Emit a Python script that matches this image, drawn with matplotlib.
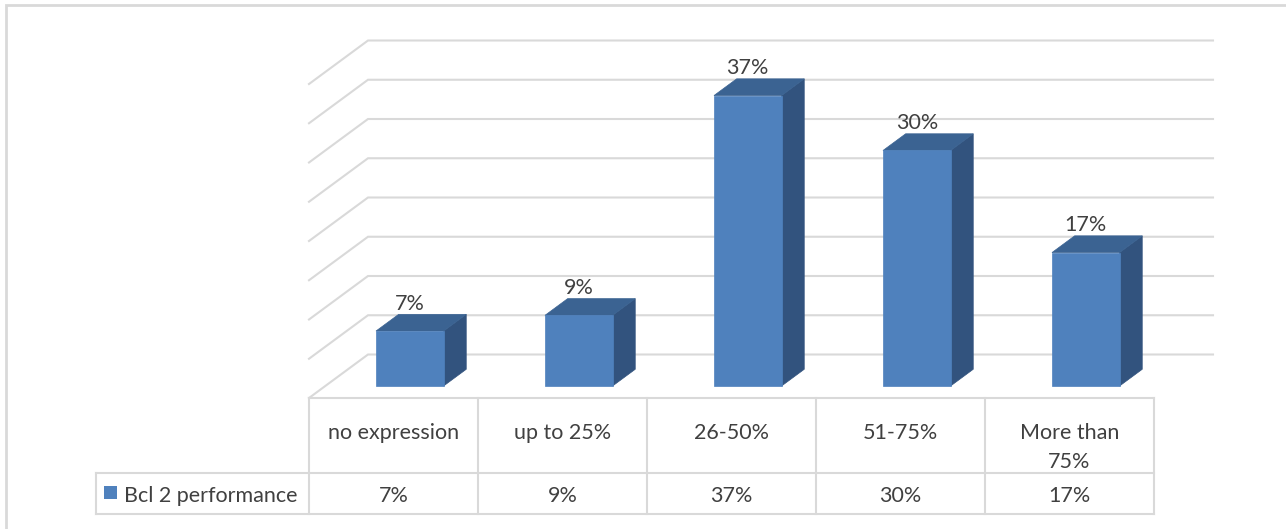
import matplotlib
matplotlib.use("Agg")
import matplotlib.pyplot as plt
from matplotlib.patches import Polygon, Rectangle
from matplotlib.lines import Line2D
from matplotlib import transforms

# ---- data ----
categories = ["no expression", "up to 25%", "26-50%", "51-75%", "More than\n75%"]
values = [7, 9, 37, 30, 17]
value_labels = ["7%", "9%", "37%", "30%", "17%"]
series_name = "Bcl 2 performance"
grid_ticks = [0, 5, 10, 15, 20, 25, 30, 35, 40]

# ---- style ----
FRONT = "#4F81BD"
TOP = "#3B6392"
SIDE = "#32537E"
GRID = "#D9D9D9"
TXT = "#404040"
FONT = "Lato"
FS = 15.5

W, H = 1286, 529
fig = plt.figure(figsize=(W / 100, H / 100), dpi=100)
fig.patch.set_facecolor("white")

PXX = 169.0   # pixels per category
PXY = 7.85    # pixels per percent
ax = fig.add_axes([309 / W, (H - 398) / H, 5 * PXX / W, 46 * PXY / H])
ax.set_xlim(-0.5, 4.5)
ax.set_ylim(0, 46)
ax.axis("off")

DX = 59 / PXX
DY = 43.5 / PXY
D0, D1 = 0.276, 0.66
BW = 0.4


def P(x, y, d):
    return (x + d * DX, y + d * DY)


# gridlines: back wall + left wall
for g in grid_ticks:
    ax.add_line(Line2D(*zip(P(-0.5, g, 0), P(-0.5, g, 1), P(4.5, g, 1)),
                       color=GRID, lw=1.5, zorder=1, clip_on=False,
                       solid_joinstyle="miter"))

# bars
for i, v in enumerate(values):
    xl, xr = i - BW / 2, i + BW / 2
    front = [P(xl, 0, D0), P(xr, 0, D0), P(xr, v, D0), P(xl, v, D0)]
    top = [P(xl, v, D0), P(xr, v, D0), P(xr, v, D1), P(xl, v, D1)]
    side = [P(xr, 0, D0), P(xr, v, D0), P(xr, v, D1), P(xr, 0, D1)]
    for poly, c in ((side, SIDE), (top, TOP), (front, FRONT)):
        ax.add_patch(Polygon(poly, closed=True, facecolor=c, edgecolor=c,
                             lw=0.5, zorder=3, clip_on=False))
    lx, ly = P(i, v, D0)[0], P(i, v, D1)[1]
    ax.text(lx, ly + 0.05, value_labels[i], ha="center", va="bottom",
            fontsize=FS, color=TXT, family=FONT, zorder=5)

# data table
row1 = -75 / PXY
row2 = -116 / PXY
leg_left = -0.5 - (309 - 96) / PXX
tbl = dict(color=GRID, lw=1.5, zorder=2, clip_on=False)
ax.add_line(Line2D([-0.5, 4.5], [0, 0], **tbl))
ax.add_line(Line2D([leg_left, 4.5], [row1, row1], **tbl))
ax.add_line(Line2D([leg_left, 4.5], [row2, row2], **tbl))
ax.add_line(Line2D([leg_left, leg_left], [row1, row2], **tbl))
for k in range(6):
    xb = -0.5 + k
    ax.add_line(Line2D([xb, xb], [0, row2], **tbl))

base1 = -(439 - 398) / PXY
step = 29 / PXY
baseval = -(502 - 398) / PXY
for i, cat in enumerate(categories):
    for j, line in enumerate(cat.split("\n")):
        ax.text(i, base1 - j * step, line, ha="center", va="baseline",
                fontsize=FS, color=TXT, family=FONT)
    ax.text(i, baseval, value_labels[i], ha="center", va="baseline",
            fontsize=FS, color=TXT, family=FONT)

# legend key inside table
ax.add_patch(Rectangle((-0.5 - (309 - 104) / PXX, -(499 - 398) / PXY),
                       13 / PXX, 13 / PXY, facecolor=FRONT, edgecolor="none",
                       clip_on=False))
ax.text(-0.5 - (309 - 124) / PXX, baseval, series_name, ha="left",
        va="baseline", fontsize=FS, color=TXT, family=FONT)

# outer chart border (top-left portion visible)
pix = transforms.Affine2D().scale(1 / W, -1 / H).translate(0, 1) + fig.transFigure
fig.add_artist(Line2D([6, 6, W + 5], [H + 5, 5, 5], color=GRID, lw=2,
                      transform=pix, solid_joinstyle="miter"))

fig.savefig("out.png", dpi=100)
